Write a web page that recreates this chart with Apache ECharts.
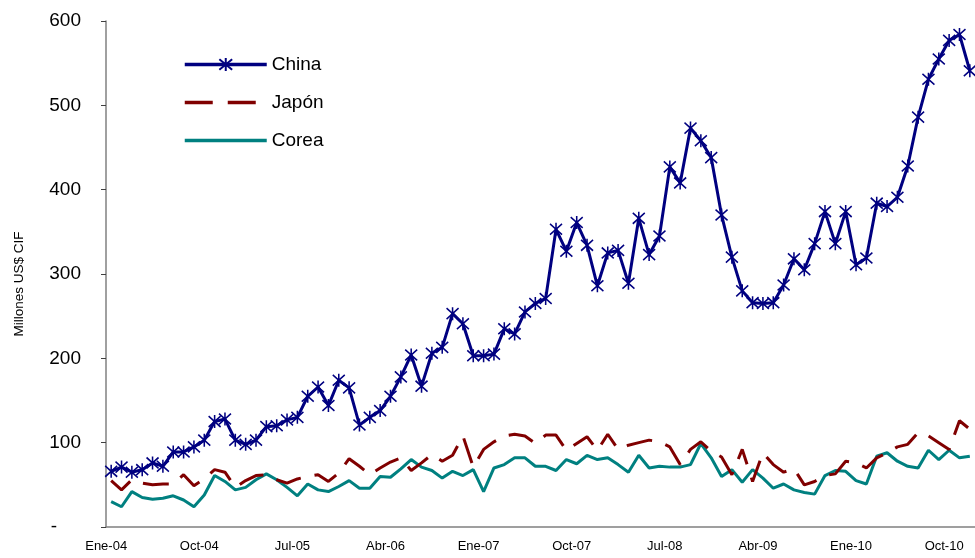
<!DOCTYPE html>
<html><head><meta charset="utf-8">
<script src="https://cdn.jsdelivr.net/npm/echarts@6/dist/echarts.min.js"></script>
<style>html,body{margin:0;padding:0;background:#fff}#c{width:975px;height:558px}</style>
</head><body><div id="c"></div>
<script>
// Month labels (Spanish) Jan 2004 – Dec 2010
const monthNames = ['Ene','Feb','Mar','Abr','May','Jun','Jul','Ago','Sep','Oct','Nov','Dic'];
const years = ['04','05','06','07','08','09','10'];
const categories = [];
years.forEach(y => monthNames.forEach(m => categories.push(m + '-' + y)));

const seriesNames = ['China', 'Japón', 'Corea'];

const china = [66,71,65,68,76,72,89,89,95,103,125,128,
  103,98,103,119,120,127,130,155,166,144,174,165,
  121,130,138,155,178,204,167,206,213,253,241,203,
  203,205,235,229,255,265,271,353,327,361,334,286,
  325,328,289,366,323,345,427,408,473,458,438,370,
  320,280,266,265,266,287,318,305,336,374,336,374,
  311,319,384,380,391,428,486,531,555,577,584,541];

const japon = [55,44,56,52,50,51,51,62,49,57,68,65,
  47,55,61,62,56,52,57,60,62,54,64,81,
  72,62,70,77,82,67,76,86,78,85,108,71,
  92,101,108,110,108,99,109,109,91,99,107,91,
  110,92,97,100,103,101,95,74,92,101,90,83,
  62,92,54,88,74,65,69,50,54,61,63,78,
  76,70,82,88,95,98,112,108,100,92,126,116];

const corea = [30,24,42,35,33,34,37,32,24,38,61,54,
  44,47,56,63,56,47,37,51,44,42,48,55,
  46,46,60,59,69,80,71,67,58,66,61,68,
  42,70,74,82,82,72,72,67,80,75,85,80,
  82,74,65,85,70,72,71,71,74,99,82,60,
  68,53,68,58,46,51,44,41,39,61,67,66,
  55,51,84,88,78,72,70,91,80,91,82,84];

const yMin = 0, yMax = 600, yStep = 100;
const zeroLabel = '-';

const star = 'path://M0,1L10,11M10,1L0,11M5,0L5,12';
const FONT = 'Liberation Sans';

const chart = echarts.init(document.getElementById('c'));
chart.setOption({
  animation: false,
  backgroundColor: '#fff',
  grid: { left: 106, right: 0, top: 21, bottom: 31, containLabel: false },
  legend: {
    orient: 'vertical', left: 183, top: 55, padding: 0,
    itemWidth: 82, itemHeight: 16, itemGap: 19,
    lineStyle: { width: 3.5 },
    textStyle: { fontFamily: FONT, fontSize: 19, color: '#000' },
    data: [
      { name: seriesNames[0] },
      { name: seriesNames[1], itemStyle: { opacity: 0 }, lineStyle: { width: 3.5, type: [28, 15, 28, 100] } },
      { name: seriesNames[2], itemStyle: { opacity: 0 } }
    ]
  },
  xAxis: {
    type: 'category', data: categories, boundaryGap: true,
    axisLine: { lineStyle: { color: '#808080', width: 1.5 } },
    axisTick: { interval: 8, length: 5, lineStyle: { color: '#404040' } },
    axisLabel: {
      interval: 8, margin: 13, color: '#000',
      fontFamily: FONT, fontSize: 13,
      formatter: v => '{a|' + v + '}',
      rich: { a: { fontFamily: FONT, fontSize: 13, color: '#000', padding: [0, 10, 0, 0] } }
    },
    splitLine: { show: false }
  },
  yAxis: {
    type: 'value', min: yMin, max: yMax, interval: yStep,
    name: 'Millones US$ CIF', nameLocation: 'middle', nameGap: 80, nameRotate: 90,
    nameTextStyle: { fontFamily: FONT, fontSize: 13.5, color: '#000', padding: [0, 20, 0, 0] },
    axisLine: { show: true, lineStyle: { color: '#808080', width: 1.5 } },
    axisTick: { show: true, length: 5, lineStyle: { color: '#404040' } },
    axisLabel: {
      margin: 25, color: '#000', fontFamily: FONT, fontSize: 19,
      formatter: v => v === 0 ? '{z|' + zeroLabel + '}' : String(v),
      rich: { z: { fontFamily: FONT, fontSize: 19, color: '#000', padding: [0, 24, 0, 0] } }
    },
    splitLine: { show: false }
  },
  series: [
    {
      name: seriesNames[0], type: 'line', data: china,
      symbol: star, symbolSize: [12, 13], showAllSymbol: true, symbolKeepAspect: false,
      lineStyle: { color: '#000080', width: 3 },
      itemStyle: { color: '#000080', borderColor: '#000080', borderWidth: 1.6 },
      z: 3
    },
    {
      name: seriesNames[1], type: 'line', data: japon, showSymbol: false, symbol: 'none',
      lineStyle: { color: '#800000', width: 3, type: [26, 14] },
      itemStyle: { color: '#800000' },
      z: 2
    },
    {
      name: seriesNames[2], type: 'line', data: corea, showSymbol: false, symbol: 'none',
      lineStyle: { color: '#008080', width: 3 },
      itemStyle: { color: '#008080' },
      z: 1
    }
  ]
});
</script>
</body></html>
